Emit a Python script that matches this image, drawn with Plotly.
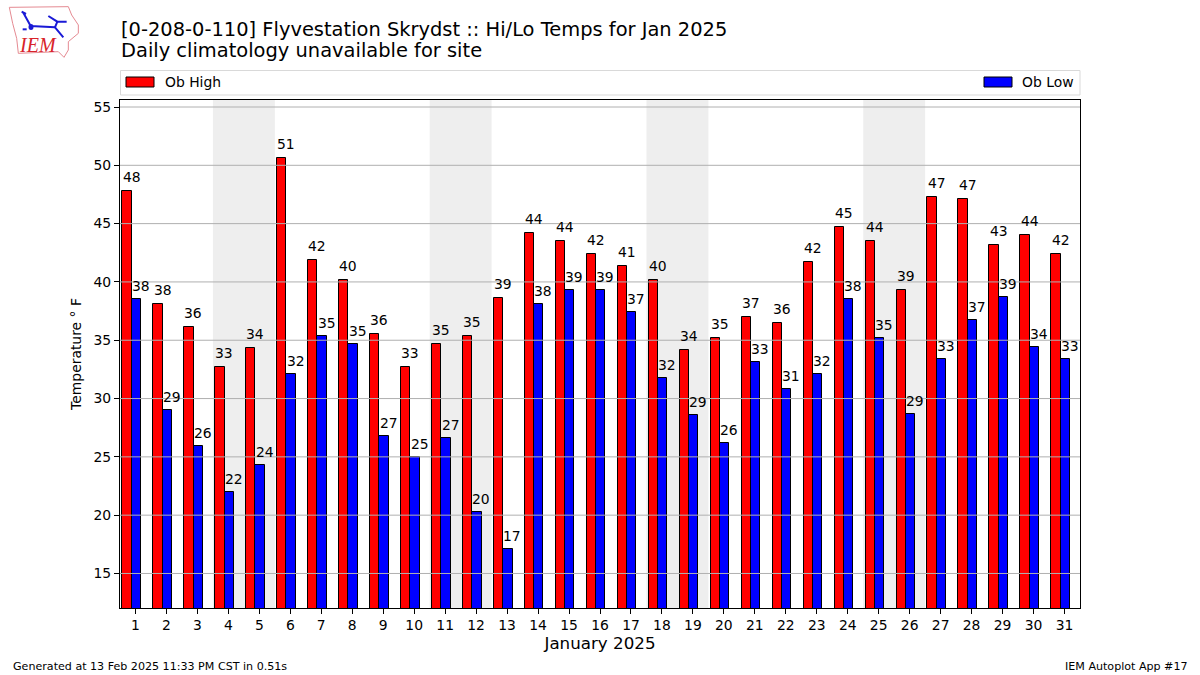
import plotly.graph_objects as go

days = list(range(1, 32))
highs = [47.8, 38.1, 36.1, 32.7, 34.3, 50.6, 41.9, 40.2, 35.5, 32.7, 34.7, 35.4, 38.6, 44.2, 43.5, 42.4,
         41.4, 40.2, 34.2, 35.2, 37.0, 36.5, 41.7, 44.7, 43.5, 39.3, 47.3, 47.1, 43.2, 44.0, 42.4]
lows = [38.5, 29.0, 25.9, 22.0, 24.3, 32.1, 35.4, 34.7, 26.8, 25.0, 26.6, 20.3, 17.1, 38.1, 39.3, 39.3,
        37.4, 31.8, 28.6, 26.2, 33.1, 30.8, 32.1, 38.5, 35.2, 28.7, 33.4, 36.7, 38.7, 34.4, 33.4]
high_labels = [48, 38, 36, 33, 34, 51, 42, 40, 36, 33, 35, 35, 39, 44, 44, 42,
               41, 40, 34, 35, 37, 36, 42, 45, 44, 39, 47, 47, 43, 44, 42]
low_labels = [38, 29, 26, 22, 24, 32, 35, 35, 27, 25, 27, 20, 17, 38, 39, 39,
              37, 32, 29, 26, 33, 31, 32, 38, 35, 29, 33, 37, 39, 34, 33]
weekend_starts = [4, 11, 18, 25]
y_ticks = [15, 20, 25, 30, 35, 40, 45, 50, 55]

FONT = "DejaVu Sans"
BAR_W = 0.3
BAR_NUDGE = 0.025  # bars sit a hair right of the ticks in the original
LEFT, RIGHT, TOP, BOTTOM = 120, 1080, 100, 608


# pixel position on the page -> paper coords, for the stuff outside the axes
def px(x, y):
    return (x - LEFT) / (RIGHT - LEFT), (BOTTOM - y) / (BOTTOM - TOP)


def path(points, close=False):
    out = []
    for i, (x, y) in enumerate(points):
        a, b = px(x / 3, y / 3)
        out.append(("M" if i == 0 else "L") + f"{a:.5f},{b:.5f}")
    return " ".join(out) + (" Z" if close else "")


def label(x, y, text, size=13.9, xanchor="left", yanchor="middle", **kw):
    a, b = px(x, y)
    return dict(xref="paper", yref="paper", x=a, y=b, text=text, showarrow=False, xanchor=xanchor,
                yanchor=yanchor, font=dict(family=FONT, size=size, color="black"), borderpad=0, **kw)


fig = go.Figure()
fig.add_trace(go.Bar(x=[d - BAR_W + BAR_NUDGE for d in days], y=highs, width=BAR_W, name="Ob High",
                     marker=dict(color="#ff0000", line=dict(color="black", width=1))))
fig.add_trace(go.Bar(x=[d + BAR_NUDGE for d in days], y=lows, width=BAR_W, name="Ob Low",
                     marker=dict(color="#0000ff", line=dict(color="black", width=1))))

shapes = []
# weekend shading, two days wide
for d in weekend_starts:
    shapes.append(dict(type="rect", xref="x", yref="paper", x0=d - 0.5, x1=d + 1.5, y0=0, y1=1,
                       fillcolor="#eeeeee", line=dict(width=0), layer="below"))
# grid sits on top of the bars in the original
for t in y_ticks:
    shapes.append(dict(type="line", xref="paper", yref="y", x0=0, x1=1, y0=t, y1=t,
                       line=dict(color="#b0b0b0", width=1), layer="above"))

# legend box
x0, y1 = px(120.5, 70.5)
x1, y0 = px(1080, 95)
shapes.append(dict(type="rect", xref="paper", yref="paper", x0=x0, x1=x1, y0=y0, y1=y1,
                   fillcolor="white", line=dict(color="#d9d9d9", width=1)))
for left, colour in ((126, "#ff0000"), (984, "#0000ff")):
    a0, b0 = px(left, 87)
    a1, b1 = px(left + 28, 77)
    shapes.append(dict(type="rect", xref="paper", yref="paper", x0=a0, x1=a1, y0=b0, y1=b1,
                       fillcolor=colour, line=dict(color="black", width=1)))

# IEM logo
shapes.append(dict(type="path", xref="paper", yref="paper", line=dict(color="#e58a92", width=1),
                   path=path([(28, 22), (205, 20), (215, 45), (235, 75), (235, 100), (205, 125), (205, 150),
                              (192, 172), (175, 155), (55, 160), (50, 115), (38, 70)], close=True)))
for pts in ([(70, 38), (92, 78), (165, 82)],
            [(145, 48), (172, 65), (200, 65)],
            [(172, 65), (165, 82), (190, 112)],
            [(65, 35), (78, 42)],
            [(68, 88), (80, 88)]):
    shapes.append(dict(type="path", xref="paper", yref="paper", line=dict(color="#1a1ad6", width=2),
                       path=path(pts)))
a0, b0 = px(28.5, 24)
a1, b1 = px(33.5, 30)
shapes.append(dict(type="circle", xref="paper", yref="paper", x0=a0, x1=a1, y0=b0, y1=b1,
                   fillcolor="#1a1ad6", line=dict(width=0)))

annotations = [
    label(119.5, 29, "[0-208-0-110] Flyvestation Skrydst :: Hi/Lo Temps for Jan 2025", size=19.45),
    label(119.5, 51, "Daily climatology unavailable for site", size=19.45),
    label(163.5, 82, "Ob High"),
    label(1074.5, 82, "Ob Low", xanchor="right"),
    label(11.5, 666, "Generated at 13 Feb 2025 11:33 PM CST in 0.51s", size=11.1),
    label(1188.5, 666, "IEM Autoplot App #17", size=11.1, xanchor="right"),
]
a, b = px(37.5, 45)
annotations.append(dict(xref="paper", yref="paper", x=a, y=b, text="<i>IEM</i>", showarrow=False,
                        xanchor="center", yanchor="middle",
                        font=dict(family="Liberation Serif", size=20, color="#d8232a")))

# value labels start at the left edge of each bar
for d, v, t in zip(days, highs, high_labels):
    annotations.append(dict(x=d - 1.5 * BAR_W, y=v, text=str(t), showarrow=False, xanchor="left",
                            yanchor="bottom", yshift=5, borderpad=0,
                            font=dict(family=FONT, size=13.9, color="black")))
for d, v, t in zip(days, lows, low_labels):
    annotations.append(dict(x=d - 0.5 * BAR_W, y=v, text=str(t), showarrow=False, xanchor="left",
                            yanchor="bottom", yshift=4, borderpad=0,
                            font=dict(family=FONT, size=13.9, color="black")))

fig.update_layout(
    width=1200,
    height=675,
    margin=dict(l=LEFT, r=1200 - RIGHT, t=TOP, b=675 - BOTTOM),
    barmode="overlay",
    bargap=0,
    showlegend=False,
    plot_bgcolor="white",
    paper_bgcolor="white",
    shapes=shapes,
    annotations=annotations,
    font=dict(family=FONT, size=13.9, color="black"),
    xaxis=dict(range=[0.5, 31.5], tickmode="array", tickvals=days, ticktext=[str(d) for d in days],
               ticks="outside", ticklen=5, tickwidth=1, tickcolor="black", showgrid=False, zeroline=False,
               showline=True, linecolor="black", linewidth=1, mirror=True, ticklabelstandoff=-1,
               title=dict(text="January 2025", font=dict(size=16.7), standoff=5)),
    yaxis=dict(range=[12.04, 55.6], tickmode="array", tickvals=y_ticks, ticktext=[str(t) for t in y_ticks],
               ticks="outside", ticklen=5, tickwidth=1, tickcolor="black", showgrid=False, zeroline=False,
               showline=True, linecolor="black", linewidth=1, mirror=True,
               title=dict(text="Temperature ° F", font=dict(size=13.9), standoff=8)),
)

fig.write_html("out.html", config={"displayModeBar": False}, post_script="document.body.style.margin='0';")
